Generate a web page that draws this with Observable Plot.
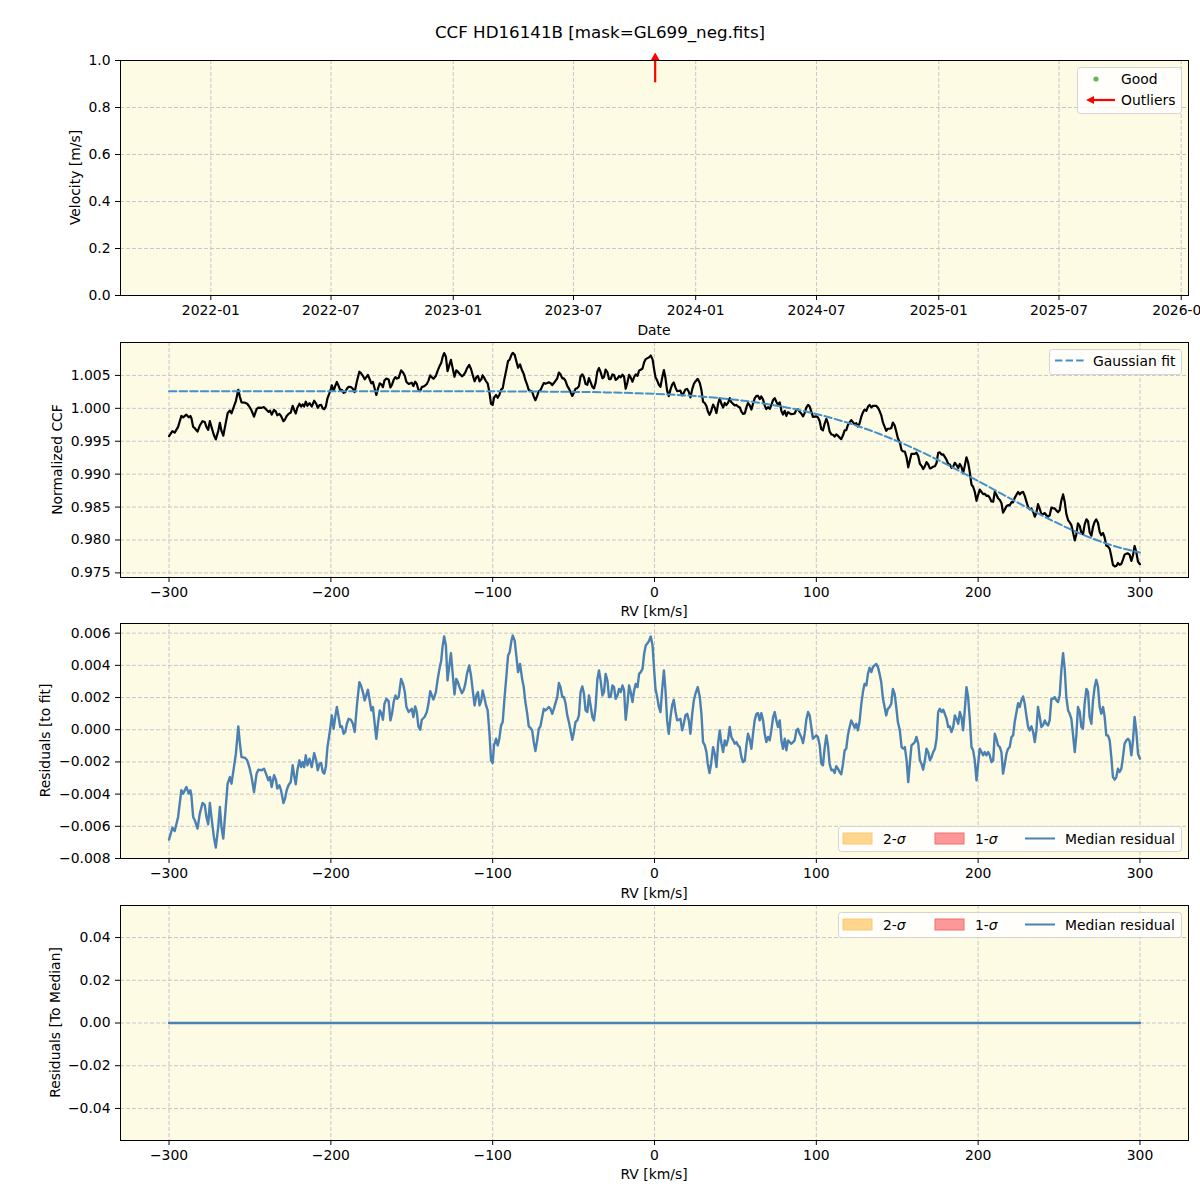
<!DOCTYPE html>
<html><head><meta charset="utf-8">
<script src="https://cdn.jsdelivr.net/npm/d3@7"></script>
<script src="https://cdn.jsdelivr.net/npm/@observablehq/plot@0.6"></script>
<style>
body{margin:0;background:#fff;font-family:"DejaVu Sans",sans-serif;}
#fig{position:relative;width:1200px;height:1200px;overflow:hidden;background:#fff;}
.panel{position:absolute;left:0;width:1200px;}
#over{position:absolute;left:0;top:0;pointer-events:none;}
</style></head><body><div id="fig"></div>
<script>
// ---------------- data ----------------
const rv = [
-300,-297.9,-296.5,-294.4,-292.4,-291.3,-289.3,-287.8,-286.8,-286.2,
-285.1,-284.1,-282.4,-281.0,-279.3,-277.9,-276.9,-275.8,-274.8,-273.8,
-272.3,-271.1,-269.6,-268.6,-267.6,-266.5,-265.1,-263.8,-262.4,-261.4,
-259.9,-258.7,-257.2,-256.2,-255.2,-253.1,-251.7,-250.4,-249.0,-247.5,
-245.9,-244.8,-242.8,-241.3,-240.1,-238.6,-237.6,-236.6,-235.1,-233.9,
-233.1,-231.8,-230.8,-229.3,-228.3,-227.3,-226.2,-224.8,-223.6,-222.7,
-221.7,-220.7,-219.4,-218.4,-217.4,-216.5,-215.5,-214.5,-213.2,-211.8,
-210.3,-209.1,-208.1,-207.0,-206.0,-205.0,-204.1,-203.1,-202.1,-201.0,
-200.0,-199.4,-198.3,-197.3,-196.3,-195.2,-194.2,-193.2,-192.1,-191.1,
-190.1,-189.0,-187.6,-186.4,-185.3,-183.9,-182.4,-181.4,-180.2,-179.1,
-178.1,-177.1,-176.0,-175.0,-174.0,-172.9,-171.9,-170.9,-169.8,-168.8,
-167.8,-166.9,-165.7,-164.3,-163.2,-162.2,-161.2,-160.1,-159.1,-158.1,
-156.6,-155.4,-154.3,-153.3,-151.9,
-150.0,-149.0,-147.9,-146.9,-145.9,-144.8,-143.8,-142.1,-140.7,-139.7,
-138.6,-137.6,-136.6,-135.1,-134.1,-132.9,-131.8,-131.0,-130.0,-128.9,
-127.9,-126.9,-125.8,-124.8,-123.6,-122.5,-121.5,-120.5,-119.0,-118.0,
-116.9,-115.9,-114.5,-113.4,-112.2,-111.2,-110.1,-109.1,-108.1,-107.0,
-106.2,-105.2,-104.1,-103.1,-102.1,-101.0,-100.0,-99.2,-97.9,-96.9,
-95.9,-94.8,-93.8,-92.8,-91.5,-90.5,-89.5,-88.4,-87.6,-86.4,
-85.3,-84.3,-83.1,-81.8,-80.8,-79.8,-78.7,-77.7,-76.7,-75.6,
-74.6,-73.6,-72.5,-71.5,-70.5,-69.4,-68.4,-67.4,-66.3,-65.3,
-64.3,-63.2,-62.2,-61.2,-60.1,-59.1,-58.1,-57.0,-56.0,-55.0,
-53.9,-52.9,-51.9,-50.8,-49.8,-48.8,-47.7,-46.7,-45.7,-44.6,
-43.6,-42.6,-41.5,-40.5,-39.5,-38.4,-37.4,-36.4,-35.3,-34.3,
-33.3,-32.2,-31.2,-30.2,-29.1,-28.1,-27.1,-26.0,-25.0,-24.0,
-22.9,-21.9,-20.9,-19.8,-18.8,-17.8,-16.7,-15.7,-14.7,-13.6,
-12.6,-11.6,-10.5,-9.5,-8.5,-7.4,-6.4,-5.4,-4.3,-3.3,
-2.3,-1.2,-0.2,
0.6,1.6,2.7,3.7,4.7,5.8,6.8,7.8,8.8,9.9,
10.9,11.9,13.0,14.0,15.0,16.0,17.1,18.1,19.1,20.2,
21.2,22.2,23.3,24.3,25.3,26.7,28.0,29.0,30.0,31.1,
32.1,32.9,34.0,35.0,36.2,37.2,38.3,39.3,40.3,41.4,
42.4,43.4,44.4,45.5,46.5,47.5,48.6,49.6,50.6,51.6,
52.7,53.7,54.7,55.8,56.8,57.8,58.8,59.9,60.9,61.9,
63.0,64.0,65.0,66.0,67.1,68.1,69.1,70.2,71.2,72.2,
73.3,74.3,75.3,76.3,77.4,78.4,79.4,80.5,81.5,82.5,
83.5,84.6,85.6,86.6,87.7,88.7,89.7,90.7,91.8,92.8,
93.8,94.9,95.9,96.9,97.9,99.0,100.0,101.0,102.1,103.1,
104.1,105.1,106.2,107.2,108.2,109.3,110.3,111.3,112.3,113.4,
114.4,115.4,116.5,117.5,118.5,119.5,120.6,121.6,122.6,123.7,
124.7,125.7,126.7,127.8,128.8,129.8,130.9,131.9,132.9,134.0,
135.0,136.0,137.0,138.1,139.1,140.1,141.2,142.2,143.2,144.2,
145.3,146.3,147.3,148.4,149.4,150.4,
151.6,152.7,153.7,154.7,155.8,156.8,157.8,158.8,159.9,160.9,
161.9,163.0,164.0,165.0,166.0,167.1,168.1,169.1,170.2,171.2,
172.2,173.3,174.3,175.3,176.3,177.4,178.4,179.4,180.5,181.5,
182.5,183.5,184.6,185.6,186.6,187.7,188.7,189.7,190.7,191.8,
192.8,193.8,194.9,195.9,196.9,197.9,199.0,200.0,201.0,202.1,
203.1,204.1,205.1,206.2,207.2,208.2,209.3,210.3,211.3,212.3,
213.4,214.4,215.4,216.5,217.5,218.5,219.5,220.6,221.6,222.6,
223.7,224.7,225.7,226.7,227.8,228.8,229.8,230.9,231.9,232.9,
234.0,235.0,236.0,237.0,238.1,239.1,240.1,241.2,242.2,243.2,
244.2,245.3,246.3,247.3,248.4,249.4,250.4,251.4,252.5,253.5,
254.5,255.6,256.6,257.6,258.6,259.7,260.7,261.7,262.8,263.8,
264.8,265.8,266.9,267.9,268.9,270.0,271.0,272.0,273.0,274.1,
275.1,276.1,277.2,278.2,279.2,280.2,281.3,282.3,283.3,284.4,
285.4,286.4,287.4,288.5,289.5,290.5,291.6,292.6,293.6,294.7,
295.7,296.7,297.7,298.8,300
];

const ccf = [
0.99578,0.99652,0.99631,0.99718,0.99884,0.99863,0.99904,0.99863,0.99884,0.99853,
0.99718,0.99698,0.99646,0.99739,0.99805,0.99791,0.99718,0.99673,0.99805,0.99718,
0.99594,0.99528,0.99656,0.99780,0.99656,0.99584,0.99760,0.99925,0.99966,0.99925,
1.00028,1.00111,1.00281,1.00173,1.00090,1.00086,1.00070,1.00028,0.99966,0.99873,
0.99987,1.00012,1.00008,1.00018,0.99987,0.99946,0.99966,0.99904,0.99977,0.99946,
0.99894,0.99915,0.99884,0.99805,0.99832,0.99884,0.99915,0.99935,1.00039,0.99977,
0.99921,1.00008,1.00070,1.00028,1.00059,1.00028,1.00101,1.00039,1.00080,1.00028,
1.00115,1.00070,1.00008,1.00049,1.00053,0.99997,0.99987,1.00028,1.00152,1.00225,
1.00297,1.00349,1.00266,1.00339,1.00401,1.00339,1.00277,1.00281,1.00235,1.00246,
1.00297,1.00328,1.00322,1.00297,1.00246,1.00411,1.00556,1.00535,1.00494,1.00442,
1.00473,1.00508,1.00442,1.00380,1.00401,1.00297,1.00204,1.00297,1.00380,1.00363,
1.00322,1.00421,1.00452,1.00438,1.00318,1.00359,1.00432,1.00473,1.00452,1.00463,
1.00576,1.00545,1.00494,1.00401,1.00370,
1.00390,1.00339,1.00405,1.00370,1.00281,1.00260,1.00322,1.00339,1.00370,1.00421,
1.00500,1.00473,1.00448,1.00494,1.00566,1.00638,1.00690,1.00773,1.00839,1.00783,
1.00566,1.00649,1.00736,1.00618,1.00479,1.00576,1.00556,1.00525,1.00487,1.00504,
1.00545,1.00607,1.00659,1.00597,1.00494,1.00411,1.00472,1.00493,1.00410,1.00441,
1.00503,1.00462,1.00410,1.00379,1.00255,1.00069,1.00051,1.00161,1.00202,1.00161,
1.00202,1.00285,1.00306,1.00440,1.00595,1.00719,1.00740,1.00812,1.00843,1.00812,
1.00709,1.00616,1.00667,1.00574,1.00523,1.00428,1.00359,1.00277,1.00268,1.00252,
1.00178,1.00123,1.00189,1.00260,1.00275,1.00333,1.00384,1.00374,1.00384,1.00394,
1.00384,1.00353,1.00384,1.00418,1.00456,1.00543,1.00518,1.00456,1.00456,1.00417,
1.00341,1.00300,1.00248,1.00188,1.00236,1.00298,1.00307,1.00338,1.00483,1.00517,
1.00471,1.00368,1.00357,1.00460,1.00398,1.00325,1.00304,1.00386,1.00561,1.00612,
1.00550,1.00456,1.00477,1.00589,1.00548,1.00444,1.00444,1.00515,1.00505,1.00431,
1.00452,1.00491,1.00471,1.00511,1.00480,1.00297,1.00396,1.00508,1.00467,1.00404,
1.00476,1.00515,1.00494,1.00575,1.00586,1.00605,1.00699,1.00748,1.00763,1.00777,
1.00802,1.00744,1.00588,
1.00473,1.00425,1.00358,1.00326,1.00459,1.00582,1.00456,1.00269,1.00185,1.00288,
1.00359,1.00392,1.00315,1.00261,1.00264,1.00268,1.00195,1.00235,1.00285,1.00294,
1.00251,1.00166,1.00288,1.00369,1.00409,1.00448,1.00384,1.00278,1.00100,1.00078,
1.00034,0.99960,0.99900,0.99956,1.00056,1.00013,0.99928,1.00070,1.00151,1.00065,
1.00011,1.00081,1.00048,1.00086,1.00156,1.00092,1.00068,1.00044,1.00051,1.00028,
1.00014,0.99949,0.99915,0.99923,1.00013,1.00082,1.00048,0.99982,1.00072,1.00151,
1.00188,1.00188,1.00140,1.00181,1.00132,1.00045,0.99989,1.00017,0.99992,1.00050,
1.00128,1.00155,1.00099,1.00054,1.00090,0.99962,0.99906,0.99962,0.99885,0.99942,
0.99926,0.99911,0.99916,0.99922,0.99978,0.99983,0.99947,0.99922,0.99878,0.99930,
1.00011,1.00053,1.00026,0.99949,0.99870,0.99875,0.99879,0.99862,0.99803,0.99683,
0.99666,0.99763,0.99839,0.99770,0.99650,0.99602,0.99599,0.99571,0.99605,0.99582,
0.99554,0.99532,0.99590,0.99666,0.99669,0.99745,0.99788,0.99821,0.99791,0.99757,
0.99774,0.99724,0.99768,0.99872,0.99937,0.99980,0.99960,1.00023,1.00052,1.00015,
1.00037,1.00038,1.00039,1.00009,0.99958,0.99897,0.99782,0.99721,0.99659,0.99690,
0.99690,0.99700,0.99783,0.99741,0.99649,0.99546,
0.99481,0.99365,0.99344,0.99343,0.99249,0.99104,0.99207,0.99310,0.99308,0.99307,
0.99327,0.99273,0.99158,0.99126,0.99077,0.99122,0.99183,0.99151,0.99087,0.99094,
0.99113,0.99120,0.99170,0.99324,0.99331,0.99298,0.99300,0.99262,0.99218,0.99154,
0.99145,0.99097,0.99114,0.99173,0.99140,0.99094,0.99155,0.99111,0.99015,0.99134,
0.99256,0.99181,0.99021,0.98842,0.98809,0.98734,0.98595,0.98685,0.98765,0.98729,
0.98695,0.98702,0.98669,0.98674,0.98640,0.98585,0.98581,0.98733,0.98688,0.98634,
0.98608,0.98563,0.98416,0.98463,0.98512,0.98529,0.98526,0.98574,0.98571,0.98640,
0.98688,0.98729,0.98692,0.98720,0.98730,0.98671,0.98586,0.98499,0.98465,0.98478,
0.98429,0.98353,0.98413,0.98545,0.98469,0.98395,0.98392,0.98409,0.98376,0.98354,
0.98373,0.98493,0.98481,0.98480,0.98446,0.98423,0.98452,0.98596,0.98692,0.98582,
0.98396,0.98300,0.98268,0.98226,0.98121,0.97994,0.98088,0.98254,0.98211,0.98108,
0.98087,0.98232,0.98314,0.98284,0.98118,0.98065,0.98201,0.98275,0.98312,0.98257,
0.98124,0.98073,0.98106,0.98035,0.97912,0.97904,0.97865,0.97753,0.97622,0.97598,
0.97606,0.97651,0.97623,0.97636,0.97701,0.97777,0.97792,0.97796,0.97777,0.97682,
0.97769,0.97909,0.97820,0.97669,0.97632
];

const residual = [
-0.00682,-0.00608,-0.00629,-0.00542,-0.00376,-0.00397,-0.00356,-0.00397,-0.00376,-0.00407,
-0.00542,-0.00562,-0.00614,-0.00521,-0.00455,-0.00469,-0.00542,-0.00587,-0.00455,-0.00542,
-0.00666,-0.00732,-0.00604,-0.0048,-0.00604,-0.00676,-0.005,-0.00335,-0.00294,-0.00335,
-0.00232,-0.00149,0.00021,-0.00087,-0.0017,-0.00174,-0.0019,-0.00232,-0.00294,-0.00387,
-0.00273,-0.00248,-0.00252,-0.00242,-0.00273,-0.00314,-0.00294,-0.00356,-0.00283,-0.00314,
-0.00366,-0.00345,-0.00376,-0.00455,-0.00428,-0.00376,-0.00345,-0.00325,-0.00221,-0.00283,
-0.00339,-0.00252,-0.0019,-0.00232,-0.00201,-0.00232,-0.00159,-0.00221,-0.0018,-0.00232,
-0.00145,-0.0019,-0.00252,-0.00211,-0.00207,-0.00263,-0.00273,-0.00232,-0.00108,-0.00035,
0.00037,0.00089,0.00006,0.00079,0.00141,0.00079,0.00017,0.00021,-0.00025,-0.00014,
0.00037,0.00068,0.00062,0.00037,-0.00014,0.00151,0.00296,0.00275,0.00234,0.00182,
0.00213,0.00248,0.00182,0.0012,0.00141,0.00037,-0.00056,0.00037,0.0012,0.00103,
0.00062,0.00161,0.00192,0.00178,0.00058,0.00099,0.00172,0.00213,0.00192,0.00203,
0.00316,0.00285,0.00234,0.00141,0.0011,
0.0013,0.00079,0.00145,0.0011,0.00021,0,0.00062,0.00079,0.0011,0.00161,
0.0024,0.00213,0.00188,0.00234,0.00306,0.00378,0.0043,0.00513,0.00579,0.00523,
0.00306,0.00389,0.00476,0.00358,0.00219,0.00316,0.00296,0.00265,0.00227,0.00244,
0.00285,0.00347,0.00399,0.00337,0.00234,0.00151,0.00213,0.00234,0.00151,0.00182,
0.00244,0.00203,0.00151,0.0012,-0.00004,-0.0019,-0.00207,-0.00097,-0.00056,-0.00097,
-0.00056,0.00027,0.00048,0.00182,0.00337,0.00461,0.00482,0.00554,0.00585,0.00554,
0.00451,0.00358,0.00409,0.00316,0.00265,0.00172,0.00103,0.00021,0.00012,-0.00004,
-0.00077,-0.00132,-0.00066,0.00006,0.00021,0.00079,0.0013,0.0012,0.0013,0.00141,
0.0013,0.00099,0.0013,0.00165,0.00203,0.0029,0.00265,0.00203,0.00203,0.00165,
0.00089,0.00048,-0.00004,-0.00062,-0.00014,0.00048,0.00058,0.00089,0.00234,0.00269,
0.00223,0.0012,0.0011,0.00213,0.00151,0.00079,0.00058,0.00141,0.00316,0.00368,
0.00306,0.00213,0.00234,0.00347,0.00306,0.00203,0.00203,0.00275,0.00265,0.00192,
0.00213,0.00254,0.00234,0.00275,0.00244,0.00062,0.00161,0.00275,0.00234,0.00172,
0.00244,0.00285,0.00265,0.00347,0.00358,0.00378,0.00472,0.00523,0.00538,0.00554,
0.00579,0.00523,0.00368,
0.00254,0.00207,0.00141,0.0011,0.00244,0.00368,0.00244,0.00058,-0.00025,0.00079,
0.00151,0.00186,0.0011,0.00058,0.00062,0.00068,-0.00004,0.00037,0.00089,0.00099,
0.00058,-0.00025,0.00099,0.00182,0.00223,0.00265,0.00203,0.00099,-0.00077,-0.00097,
-0.00139,-0.00211,-0.00269,-0.00211,-0.00108,-0.00149,-0.00232,-0.00087,-0.00004,-0.00087,
-0.00139,-0.00066,-0.00097,-0.00056,0.00017,-0.00045,-0.00066,-0.00087,-0.00077,-0.00097,
-0.00108,-0.0017,-0.00201,-0.0019,-0.00097,-0.00025,-0.00056,-0.00118,-0.00025,0.00058,
0.00099,0.00103,0.00058,0.00103,0.00058,-0.00025,-0.00077,-0.00045,-0.00066,-0.00004,
0.00079,0.0011,0.00058,0.00017,0.00058,-0.00066,-0.00118,-0.00056,-0.00128,-0.00066,
-0.00077,-0.00087,-0.00077,-0.00066,-0.00004,0.00006,-0.00025,-0.00045,-0.00083,-0.00025,
0.00062,0.0011,0.00089,0.00017,-0.00056,-0.00045,-0.00035,-0.00045,-0.00097,-0.00211,
-0.00221,-0.00118,-0.00035,-0.00097,-0.00211,-0.00252,-0.00248,-0.00269,-0.00227,-0.00242,
-0.00263,-0.00277,-0.00211,-0.00128,-0.00118,-0.00035,0.00017,0.00058,0.00037,0.00012,
0.00037,-0.00004,0.00048,0.00161,0.00234,0.00285,0.00275,0.00347,0.00385,0.00358,
0.00389,0.00399,0.00409,0.00389,0.00347,0.00296,0.00192,0.00141,0.00089,0.0013,
0.00141,0.00161,0.00254,0.00223,0.00141,0.00048,
-0.00004,-0.00108,-0.00118,-0.00108,-0.0019,-0.00325,-0.00211,-0.00097,-0.00087,-0.00077,
-0.00045,-0.00087,-0.0019,-0.00211,-0.00248,-0.0019,-0.00118,-0.00139,-0.0019,-0.0017,
-0.00139,-0.00118,-0.00056,0.0011,0.0013,0.0011,0.00124,0.00099,0.00068,0.00017,
0.00021,-0.00014,0.00017,0.00089,0.00068,0.00037,0.0011,0.00079,-0.00004,0.0013,
0.00265,0.00203,0.00058,-0.00108,-0.00128,-0.0019,-0.00314,-0.00211,-0.00118,-0.00139,
-0.00159,-0.00139,-0.00159,-0.00139,-0.00159,-0.00201,-0.0019,-0.00025,-0.00056,-0.00097,
-0.00108,-0.00139,-0.00273,-0.00211,-0.00149,-0.00118,-0.00108,-0.00045,-0.00035,0.00048,
0.0011,0.00165,0.00141,0.00182,0.00207,0.00161,0.00089,0.00017,-0.00004,0.00021,
-0.00014,-0.00077,-0.00004,0.00141,0.00079,0.00017,0.00027,0.00058,0.00037,0.00027,
0.00058,0.00192,0.00192,0.00203,0.00182,0.00172,0.00213,0.00368,0.00476,0.00378,
0.00203,0.0012,0.00099,0.00068,-0.00025,-0.00139,-0.00035,0.00141,0.0011,0.00017,
0.00006,0.00161,0.00254,0.00234,0.00079,0.00037,0.00182,0.00265,0.0031,0.00265,
0.00141,0.00099,0.00141,0.00079,-0.00035,-0.00035,-0.00066,-0.0017,-0.00294,-0.0031,
-0.00294,-0.00242,-0.00263,-0.00242,-0.0017,-0.00087,-0.00066,-0.00056,-0.0007,-0.00159,
-0.00066,0.00079,-0.00004,-0.00149,-0.0018
];

const fitRv = [-300,-290,-280,-270,-260,-250,-240,-230,-220,-210,-200,-190,-180,-170,-160,-150,-140,-130,-120,
-110,-100,-90,-80,-70,-60,-50,-40,-30,-20,-10,0,10,20,30,40,50,60,70,80,90,100,
110,120,130,140,150,160,170,180,190,200,210,220,230,240,250,260,270,280,290,300];
const fitVal = [1.00260,1.00260,1.00260,1.00260,1.00260,1.00260,1.00260,1.00260,1.00260,1.00260,
1.00260,1.00260,1.00260,1.00260,1.00260,1.00260,1.00260,1.00260,1.00260,
1.00259,1.00258,1.00257,1.00256,1.00254,1.00253,1.00250,1.00247,1.00242,1.00236,1.00229,
1.00220,1.00209,1.00195,1.00177,1.00156,1.00130,1.00100,1.00063,1.00021,0.99971,0.99914,
0.99849,0.99776,0.99693,0.99602,0.99502,0.99394,0.99279,0.99156,0.99028,0.98896,
0.98762,0.98627,0.98494,0.98366,0.98244,0.98130,0.98028,0.97940,0.97867,0.97811];

const medianRv = [-300, 300];
const residualToMedian = [0, 0];

const outlierDates = ["2023-11-01"];
const dateTicks = ["2022-01-01","2022-07-01","2023-01-01","2023-07-01","2024-01-01","2024-07-01","2025-01-01","2025-07-01","2026-01-01"];
const rvTicks = [-300,-200,-100,0,100,200,300];
const velTicks = [0,0.2,0.4,0.6,0.8,1.0];
const ccfTicks = [0.975,0.980,0.985,0.990,0.995,1.000,1.005];
const resTicks = [-0.008,-0.006,-0.004,-0.002,0,0.002,0.004,0.006];
const medTicks = [-0.04,-0.02,0,0.02,0.04];

// ---------------- styling ----------------
const BG = "#fdfbe3";
const GRIDC = "#c6c6cc";
const FITC = "#4690c8";
const RESC = "#4a80b2";
const FONT = "DejaVu Sans";
const FS = 13.9;

const fig = document.getElementById("fig");
const utc = s => new Date(s + "T00:00:00Z");

function panel({top, x, y, xTicks, xFmt, yTicks, yFmt, marks}) {
  const grid = {stroke: GRIDC, strokeOpacity: 1, strokeWidth: 1, strokeDasharray: "4,2"};
  const p = Plot.plot({
    width: 1200, height: 300,
    marginLeft: 120, marginRight: 12, marginTop: 20, marginBottom: 45,
    style: {fontFamily: FONT, fontSize: FS + "px", background: "transparent", overflow: "visible", color: "#000"},
    x: {...x, label: null},
    y: {...y, label: null},
    marks: [
      Plot.frame({fill: BG, stroke: "none"}),
      Plot.gridX({ticks: xTicks, ...grid}),
      Plot.gridY({ticks: yTicks, ...grid}),
      ...marks,
      Plot.frame({stroke: "#000", strokeWidth: 1, fill: "none"}),
      Plot.axisX({ticks: xTicks, tickFormat: xFmt, tickSize: 5, tickPadding: 5, fontSize: FS, label: null, stroke: "#000"}),
      Plot.axisY({ticks: yTicks, tickFormat: yFmt, tickSize: 5, tickPadding: 5, fontSize: FS, label: null, stroke: "#000"})
    ]
  });
  const d = document.createElement("div");
  d.className = "panel";
  d.style.top = top + "px";
  d.appendChild(p);
  fig.appendChild(d);
}

const ccfPts = rv.map((r, i) => ({rv: r, v: ccf[i]}));
const resPts = rv.map((r, i) => ({rv: r, v: residual[i]}));
const fitPts = fitRv.map((r, i) => ({rv: r, v: fitVal[i]}));
const medPts = medianRv.map((r, i) => ({rv: r, v: residualToMedian[i]}));
const outD = outlierDates.map(utc);
const rvFmt = d3.format("d");

// Panel 1: velocity vs date
panel({
  top: 40,
  x: {type: "utc", domain: [utc("2021-08-18"), utc("2026-01-12")]},
  y: {domain: [0, 1]},
  xTicks: dateTicks.map(utc), xFmt: d3.utcFormat("%Y-%m"),
  yTicks: velTicks, yFmt: d3.format(".1f"),
  marks: [
    Plot.ruleX(outD, {x: d => d, y1: 0.905, y2: 1.0, stroke: "red", strokeWidth: 2.2, clip: false}),
    Plot.dot(outD, {x: d => d, y: 1.013, symbol: "triangle", r: 3.2, fill: "red", stroke: "none", clip: false})
  ]
});

// Panel 2: CCF + Gaussian fit
panel({
  top: 322,
  x: {domain: [-330, 330]},
  y: {domain: [0.9743, 1.0100]},
  xTicks: rvTicks, xFmt: rvFmt,
  yTicks: ccfTicks, yFmt: d3.format(".3f"),
  marks: [
    Plot.line(ccfPts, {x: "rv", y: "v", stroke: "#000", strokeWidth: 2.2}),
    Plot.line(fitPts, {x: "rv", y: "v", stroke: FITC, strokeWidth: 2, strokeDasharray: "7.4,3.2", curve: "natural"})
  ]
});

// Panel 3: residuals to fit
panel({
  top: 603,
  x: {domain: [-330, 330]},
  y: {domain: [-0.0080, 0.0066]},
  xTicks: rvTicks, xFmt: rvFmt,
  yTicks: resTicks, yFmt: d3.format(".3f"),
  marks: [
    Plot.line(resPts, {x: "rv", y: "v", stroke: RESC, strokeWidth: 2.4})
  ]
});

// Panel 4: residuals to median
panel({
  top: 885,
  x: {domain: [-330, 330]},
  y: {domain: [-0.055, 0.055]},
  xTicks: rvTicks, xFmt: rvFmt,
  yTicks: medTicks, yFmt: d3.format(".2f"),
  marks: [
    Plot.line(medPts, {x: "rv", y: "v", stroke: RESC, strokeWidth: 2.4})
  ]
});

// ---------------- overlay: titles, labels, legends ----------------
const svg = d3.select(fig).append("svg").attr("id", "over")
  .attr("width", 1200).attr("height", 1200)
  .style("font-family", FONT).style("font-size", FS + "px");

function txt(s, x, y, opts = {}) {
  const t = svg.append("text").attr("x", x).attr("y", y)
    .attr("text-anchor", opts.anchor || "start")
    .attr("dominant-baseline", "central")
    .attr("fill", "#000");
  if (opts.size) t.style("font-size", opts.size + "px");
  if (opts.rotate) t.attr("transform", `rotate(-90,${x},${y})`);
  t.text(s);
  return t;
}

txt("CCF HD16141B [mask=GL699_neg.fits]", 600, 32, {anchor: "middle", size: 16.7});

txt("Velocity [m/s]", 75, 177.5, {anchor: "middle", rotate: true});
txt("Date", 654, 330, {anchor: "middle"});
txt("Normalized CCF", 57, 459.5, {anchor: "middle", rotate: true});
txt("RV [km/s]", 654, 611, {anchor: "middle"});
txt("Residuals [to fit]", 45, 740.5, {anchor: "middle", rotate: true});
txt("RV [km/s]", 654, 893, {anchor: "middle"});
txt("Residuals [To Median]", 55, 1022.5, {anchor: "middle", rotate: true});
txt("RV [km/s]", 654, 1174, {anchor: "middle"});

function box(x, y, w, h) {
  svg.append("rect").attr("x", x + 0.5).attr("y", y + 0.5).attr("width", w).attr("height", h)
    .attr("rx", 3).attr("fill", "#fff").attr("fill-opacity", 0.8)
    .attr("stroke", "#d4d4d4").attr("stroke-width", 1);
}

// legend panel 1
box(1077, 67, 104, 46);
svg.append("circle").attr("cx", 1096).attr("cy", 79).attr("r", 2.6).attr("fill", "#63b463");
txt("Good", 1121, 79);
svg.append("line").attr("x1", 1115).attr("y1", 100).attr("x2", 1092).attr("y2", 100)
  .attr("stroke", "red").attr("stroke-width", 2.2);
svg.append("path").attr("d", "M1086,100 L1094,96 L1094,104 Z").attr("fill", "red");
txt("Outliers", 1121, 100);

// legend panel 2
box(1049, 349, 132, 25);
svg.append("line").attr("x1", 1055).attr("y1", 360.5).attr("x2", 1084).attr("y2", 360.5)
  .attr("stroke", FITC).attr("stroke-width", 2).attr("stroke-dasharray", "7.4,3.2");
txt("Gaussian fit", 1093, 360.5);

// legends panel 3 and 4
function sigmaLegend(top) {
  box(838, top, 343, 25);
  const cy = top + 12.5;
  svg.append("rect").attr("x", 843).attr("y", cy - 5.5).attr("width", 29).attr("height", 11)
    .attr("fill", "#fed68e").attr("stroke", "#fdc870").attr("stroke-width", 1);
  const t1 = txt("2-", 883, cy);
  t1.append("tspan").attr("font-style", "italic").text("σ");
  svg.append("rect").attr("x", 935).attr("y", cy - 5.5).attr("width", 29).attr("height", 11)
    .attr("fill", "#fe9797").attr("stroke", "#f07070").attr("stroke-width", 1);
  const t2 = txt("1-", 975, cy);
  t2.append("tspan").attr("font-style", "italic").text("σ");
  svg.append("line").attr("x1", 1025).attr("y1", cy).attr("x2", 1055).attr("y2", cy)
    .attr("stroke", RESC).attr("stroke-width", 2);
  txt("Median residual", 1065, cy);
}
sigmaLegend(826);
sigmaLegend(912);
</script></body></html>
